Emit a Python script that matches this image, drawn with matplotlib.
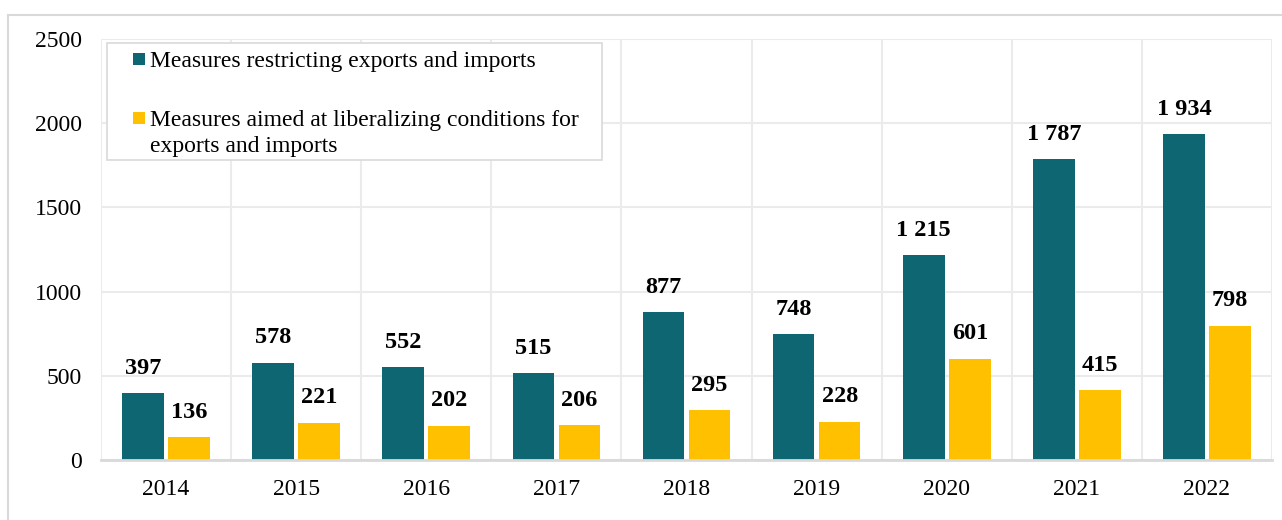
import matplotlib
matplotlib.use("Agg")
import matplotlib.pyplot as plt
from matplotlib.patches import Rectangle
import numpy as np

years = ["2014", "2015", "2016", "2017", "2018", "2019", "2020", "2021", "2022"]
restricting = [397, 578, 552, 515, 877, 748, 1215, 1787, 1934]
liberalizing = [136, 221, 202, 206, 295, 228, 601, 415, 798]
series_names = [
    "Measures restricting exports and imports",
    "Measures aimed at liberalizing conditions for\nexports and imports",
]
y_ticks = [0, 500, 1000, 1500, 2000, 2500]

TEAL = "#0E6672"
GOLD = "#FFC000"
GRID = "#EBEBEB"
FRAME = "#D9D9D9"

plt.rcParams["font.family"] = ["Liberation Serif", "DejaVu Serif"]

W, H = 1282, 520
fig = plt.figure(figsize=(W / 100, H / 100), dpi=100)


def px(x, y):
    """Pixel position (from top-left) to figure fraction."""
    return x / W, 1 - y / H


# outer chart-area frame
fig.patches.append(Rectangle((8 / W, -0.1), 1.2, 1 - 15 / H + 0.1,
                             transform=fig.transFigure, fill=False,
                             edgecolor=FRAME, linewidth=1.5, zorder=0))

ax = fig.add_axes([101 / W, 1 - 460 / H, 1171 / W, 421 / H])

x = np.arange(len(years))
bw = 0.32
off = 0.177
b1 = ax.bar(x - off, restricting, bw, color=TEAL, zorder=3)
b2 = ax.bar(x + off, liberalizing, bw, color=GOLD, zorder=3)


def fmt(v):
    return f"{v:,}".replace(",", " ")


for bars, vals in ((b1, restricting), (b2, liberalizing)):
    for r, v in zip(bars, vals):
        ax.annotate(fmt(v), (r.get_x() + r.get_width() / 2, v),
                    xytext=(0, 18), textcoords="offset points",
                    ha="center", va="center", fontsize=17.5,
                    fontweight="bold", color="black")

ax.set_xlim(-0.5, len(years) - 0.5)
ax.set_ylim(0, 2500)
ax.set_yticks(y_ticks)
ax.set_yticklabels([str(t) for t in y_ticks], fontsize=17)
ax.set_xticks(x)
ax.set_xticklabels(years, fontsize=17)
ax.tick_params(length=0)
ax.tick_params(axis="x", pad=14)
ax.tick_params(axis="y", pad=14)

# horizontal grid at y ticks, vertical grid at category boundaries
ax.set_xticks(np.arange(len(years) + 1) - 0.5, minor=True)
ax.grid(axis="y", which="major", color=GRID, linewidth=1.5, zorder=0)
ax.grid(axis="x", which="minor", color=GRID, linewidth=1.5, zorder=0)
ax.tick_params(which="minor", length=0)

for s in ("top", "right", "left"):
    ax.spines[s].set_visible(False)
ax.spines["bottom"].set_color(FRAME)
ax.spines["bottom"].set_linewidth(2)
ax.spines["bottom"].set_zorder(4)

# legend box with square swatches
lx0, ly0, lx1, ly1 = 107, 43, 602, 160
fig.patches.append(Rectangle(px(lx0, ly1), (lx1 - lx0) / W, (ly1 - ly0) / H,
                             transform=fig.transFigure, facecolor="white",
                             edgecolor=FRAME, linewidth=1.2, zorder=5))
for color, name, yc in ((TEAL, series_names[0], 59), (GOLD, series_names[1], 118)):
    fig.patches.append(Rectangle(px(133, yc + 6), 12 / W, 12 / H,
                                 transform=fig.transFigure, facecolor=color,
                                 edgecolor="none", zorder=6))
    fig.text(*px(150, yc - 8), name, fontsize=17, ha="left", va="top",
             linespacing=1.3, zorder=7)

fig.savefig("out.png", dpi=100)
